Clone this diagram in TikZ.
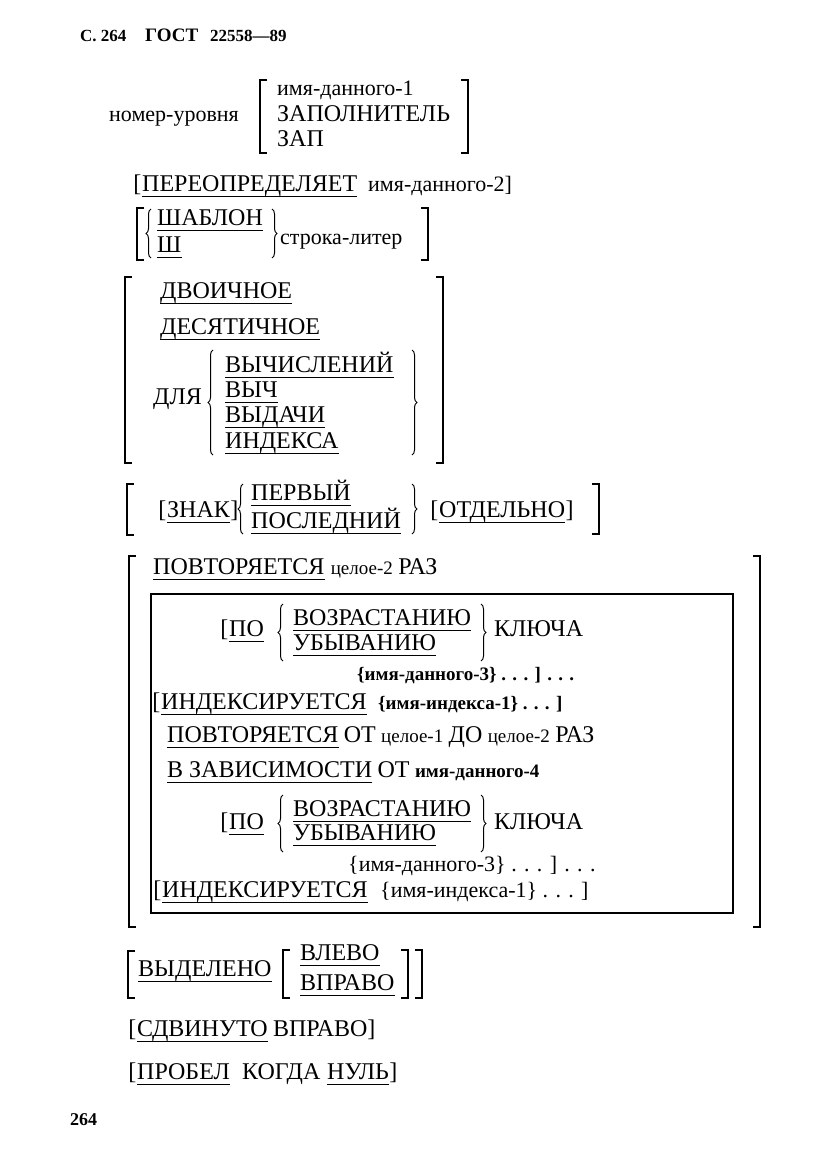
\documentclass[tikz,border=0pt]{standalone}
\usepackage{fontspec}
\setmainfont{Liberation Serif}
\usetikzlibrary{calc,positioning,decorations.pathreplacing}

\newcommand*{\kwfont}{\fontsize{24}{28}\selectfont}
\newcommand*{\opfont}{\fontsize{22}{26}\selectfont}
\newcommand*{\smfont}{\fontsize{19}{23}\selectfont}
\newcommand*{\bopfont}{\fontsize{19}{23}\selectfont\bfseries}
\newcommand*{\hdfont}{\fontsize{17}{20}\selectfont\bfseries}

\begin{document}
\begin{tikzpicture}[x=1pt,y=-1pt,
  w/.style={anchor=base west,inner sep=0pt,font=\kwfont},
  lb/.style={w,anchor=base east,xshift=-0.5pt},
  op/.style={w,font=\opfont},
  sm/.style={w,font=\smfont},
  bop/.style={w,font=\bopfont},
  hd/.style={w,font=\hdfont},
  ul/.style={line width=0.9pt},
  brk/.style={line width=1.1pt},
  brc/.style={line width=1pt,decorate,decoration={brace,amplitude=5pt}}]
\newcommand*{\openbr}[3]{\draw[brk] (#1+7,#2) -- (#1,#2) -- (#1,#3) -- (#1+7,#3);}
\newcommand*{\closebr}[3]{\draw[brk] (#1-7,#2) -- (#1,#2) -- (#1,#3) -- (#1-7,#3);}
\newcommand*{\openbc}[3]{\draw[brc] (#1,#3) -- (#1,#2);}
\newcommand*{\closebc}[3]{\draw[brc] (#1,#2) -- (#1,#3);}
\useasboundingbox (0,0) rectangle (827,1169);

% header
\node[hd] (pg) at (80,42) {С.\ 264};
\node[hd,font=\fontsize{19}{22}\selectfont\bfseries] (gost) at (145,42) {ГОСТ};
\node[hd] (num) at (210,42) {22558—89};

% underlined key words
\foreach \n/\x/\y/\t in {redef/142/191/ПЕРЕОПРЕДЕЛЯЕТ, pic/157/225/ШАБЛОН, pc/157/252/Ш,
    bin/160/298/ДВОИЧНОЕ, dec/160/334/ДЕСЯТИЧНОЕ,
    comp/225/372/ВЫЧИСЛЕНИЙ, cmp/225/397/ВЫЧ, disp/225/422/ВЫДАЧИ, idx/225/448/ИНДЕКСА,
    sign/167/517/ЗНАК, lead/251/500/ПЕРВЫЙ, trail/251/528/ПОСЛЕДНИЙ, sep/439/517/ОТДЕЛЬНО,
    occ/153/574/ПОВТОРЯЕТСЯ,
    by1/229/636/ПО, asc1/293/625/ВОЗРАСТАНИЮ, desc1/293/650/УБЫВАНИЮ, ix1/161/709/ИНДЕКСИРУЕТСЯ,
    occ2/167/742/ПОВТОРЯЕТСЯ, dep/167/777/В ЗАВИСИМОСТИ,
    by2/229/829/ПО, asc2/293/816/ВОЗРАСТАНИЮ, desc2/293/840/УБЫВАНИЮ, ix2/162/897/ИНДЕКСИРУЕТСЯ,
    hl/138/976/ВЫДЕЛЕНО, left/300/960/ВЛЕВО, right/300/990/ВПРАВО,
    just/137/1036/СДВИНУТО, blank/137/1079/ПРОБЕЛ, zero/327/1079/НУЛЬ}
{
  \node[w] (\n) at (\x,\y) {\t};
  \draw[ul] ([yshift=-5.5pt]\n.base west) -- ([yshift=-5.5pt]\n.base east);
}

% level number and first choice
\node[op] (lev) at (109,122) {номер-уровня};
\openbr{260}{80}{153}
\node[op] (dn1) at (277,96) {имя-данного-1};
\node[w] (fill) at (277,122) {ЗАПОЛНИТЕЛЬ};
\node[w] (fil) at (277,147) {ЗАП};
\closebr{468}{80}{153}

\node[lb] (rdl) at (redef.base west) {[};
\node[op] (dn2) at (368,191) {имя-данного-2]};

\openbr{137}{208}{260}
\openbc{151}{209}{258}
\closebc{272}{209}{258}
\node[op] (lit) at (280,244) {строка-литер};
\closebr{428}{208}{260}

% usage
\openbr{125}{277}{463}
\node[w] (for) at (153,404) {ДЛЯ};
\openbc{213}{350}{455}
\closebc{412}{350}{455}
\closebr{443}{277}{463}

% sign
\openbr{127}{484}{535}
\node[lb] (sgl) at (sign.base west) {[};
\node[w] (sgr) at (sign.base east) {]};
\openbc{243}{484}{534}
\closebc{412}{484}{534}
\node[lb] (spl) at (sep.base west) {[};
\node[w] (spr) at (sep.base east) {]};
\closebr{599}{484}{534}

% occurs
\openbr{129}{556}{927}
\node[sm] (int2) at ([xshift=6pt]occ.base east) {целое-2};
\node[w] (times) at ([xshift=5pt]int2.base east) {РАЗ};
\closebr{760}{556}{927}
\draw[brk] (151,594) rectangle (733,913);

\node[lb] (bl1) at (by1.base west) {[};
\openbc{283}{604}{661}
\closebc{481}{604}{661}
\node[w] (key1) at (494,636) {КЛЮЧА};
\node[bop] (dn3a) at (357,680) {\{имя-данного-3\} . . . ] . . .};
\node[lb] (ixl1) at (ix1.base west) {[};
\node[bop] (in1) at (378,709) {\{имя-индекса-1\} . . . ]};

\node[w] (from) at ([xshift=5pt]occ2.base east) {ОТ};
\node[sm] (int1) at ([xshift=5pt]from.base east) {целое-1};
\node[w] (to) at ([xshift=5pt]int1.base east) {ДО};
\node[sm] (int2b) at ([xshift=5pt]to.base east) {целое-2};
\node[w] (times2) at ([xshift=5pt]int2b.base east) {РАЗ};
\node[w] (from2) at ([xshift=5pt]dep.base east) {ОТ};
\node[bop] (dn4) at ([xshift=5pt]from2.base east) {имя-данного-4};

\node[lb] (bl2) at (by2.base west) {[};
\openbc{283}{795}{852}
\closebc{481}{795}{852}
\node[w] (key2) at (494,829) {КЛЮЧА};
\node[op] (dn3b) at (348,871) {\{имя-данного-3\} . . . ] . . .};
\node[lb] (ixl2) at (ix2.base west) {[};
\node[op] (in2) at (380,897) {\{имя-индекса-1\} . . . ]};

% justification and blank
\openbr{128}{951}{998}
\openbr{283}{950}{998}
\closebr{408}{950}{998}
\closebr{422}{950}{998}
\node[lb] (jl) at (just.base west) {[};
\node[w] (jr) at ([xshift=5pt]just.base east) {ВПРАВО]};
\node[lb] (bkl) at (blank.base west) {[};
\node[w] (when) at (242,1079) {КОГДА};
\node[w] (bkr) at (zero.base east) {]};

\node[hd,font=\fontsize{18}{21}\selectfont\bfseries] (pno) at (70,1125) {264};
\end{tikzpicture}
\end{document}
